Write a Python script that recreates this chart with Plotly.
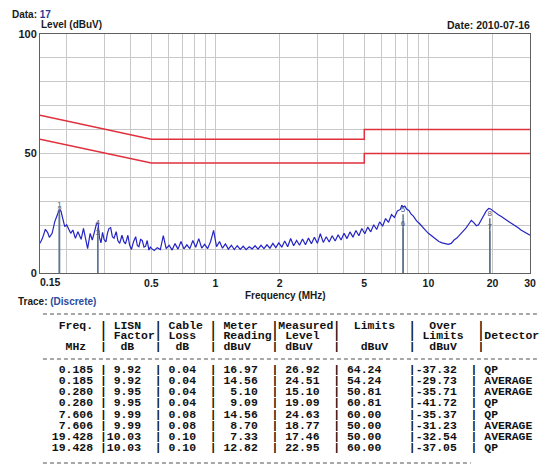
import math
import plotly.graph_objects as go

# ---------------- data ----------------
limit_freq = [0.15, 0.5, 5, 5, 30]
qp_limit = [66, 56, 56, 60, 60]
avg_limit = [56, 46, 46, 50, 50]

trace_freq = [
    0.150, 0.154, 0.159, 0.163, 0.166, 0.171, 0.176, 0.181, 0.185, 0.188,
    0.191, 0.196, 0.200, 0.203, 0.209, 0.214, 0.220, 0.226, 0.234, 0.240,
    0.245, 0.251, 0.258, 0.264, 0.270, 0.276, 0.281, 0.285, 0.290, 0.295,
    0.300, 0.306, 0.311, 0.316, 0.322, 0.328, 0.334, 0.342, 0.348, 0.355,
    0.364, 0.371, 0.378, 0.388, 0.395, 0.403, 0.412, 0.422, 0.430, 0.437,
    0.445, 0.453, 0.462, 0.470, 0.478, 0.487, 0.495,
    0.500, 0.516, 0.533, 0.551, 0.569, 0.587, 0.606, 0.626, 0.646, 0.667,
    0.689, 0.711, 0.734, 0.758, 0.783, 0.808, 0.835, 0.862, 0.890, 0.919,
    0.949, 0.980, 1.012, 1.045, 1.079, 1.114, 1.150, 1.188, 1.226, 1.266,
    1.308, 1.350, 1.394, 1.440, 1.487, 1.535, 1.585, 1.637, 1.690, 1.745,
    1.802, 1.861, 1.921, 1.984, 2.049, 2.115, 2.184, 2.255, 2.329, 2.405,
    2.483, 2.564, 2.648, 2.734, 2.823, 2.915, 3.010, 3.108, 3.209, 3.314,
    3.422, 3.534, 3.649, 3.768, 3.890, 4.017, 4.148, 4.283, 4.423, 4.567,
    4.716, 4.869, 5.028, 5.192, 5.361, 5.536, 5.716, 5.902, 6.095, 6.293,
    6.498, 6.710, 6.929, 7.154, 7.388,
    7.50, 7.606, 7.75, 7.90, 8.10, 8.30, 8.50, 8.80, 9.10, 9.40,
    9.70, 10.0, 10.4, 10.8, 11.2, 11.6, 12.0, 12.4, 12.8, 13.2,
    13.6, 14.0, 14.5, 15.0, 15.5, 15.9, 16.3, 16.8, 17.2, 17.7,
    18.2, 18.7, 19.2, 19.6, 20.0, 20.6, 21.3, 22.0, 22.8, 23.6,
    24.5, 25.4, 26.3, 27.2, 28.1, 29.0, 30.0,
]
trace_level = [
    12.4, 14.5, 18.3, 16.9, 14.9, 16.6, 21.5, 24.8, 26.6, 26.0,
    22.9, 19.4, 20.2, 18.7, 16.6, 18.0, 14.5, 17.3, 14.1, 18.7,
    15.2, 10.2, 16.6, 13.8, 17.0, 20.5, 21.0, 15.0, 12.6, 17.0,
    14.0, 13.0, 16.6, 18.6, 19.0, 15.2, 14.6, 17.3, 13.6, 12.4,
    15.8, 13.2, 12.2, 15.8, 11.8, 9.8, 13.0, 15.2, 11.4, 11.0,
    14.0, 13.6, 10.8, 11.2, 13.6, 9.6, 11.0,
    10.3, 9.4, 10.6, 9.8, 15.6, 10.2, 11.6, 9.6, 12.3, 10.0,
    13.2, 10.1, 11.8, 10.2, 13.6, 10.8, 14.4, 10.4, 12.0, 10.2,
    13.2, 17.8, 11.0, 13.2, 10.4, 12.2, 10.0, 11.6, 9.8, 11.4,
    9.9, 11.2, 9.8, 11.0, 10.1, 11.4, 10.0, 11.6, 10.2, 11.8,
    10.4, 12.4, 10.6, 12.6, 10.8, 13.4, 11.0, 14.4, 11.4, 13.6,
    11.6, 14.2, 11.8, 14.6, 12.2, 15.0, 12.4, 16.4, 12.8, 15.2,
    13.0, 15.6, 13.4, 16.0, 13.8, 16.6, 14.4, 17.2, 15.0, 17.8,
    15.6, 18.6, 16.4, 19.2, 17.2, 20.2, 18.2, 21.4, 19.6, 22.8,
    21.2, 24.4, 23.2, 26.0, 26.6,
    28.4, 27.6, 28.0, 26.8, 26.2, 24.6, 23.8, 21.8, 20.6, 19.0,
    17.8, 16.6, 15.4, 14.2, 13.2, 12.6, 12.2, 12.0, 12.4, 13.8,
    14.6, 15.8, 17.2, 18.8, 20.6, 22.0, 21.2, 19.8, 20.2, 22.4,
    24.4, 26.0, 27.0, 26.8, 26.2, 25.2, 24.4, 23.6, 22.8, 21.8,
    20.8, 20.0, 19.0, 18.0, 17.2, 16.6, 15.8,
]

freq_mhz = [0.185, 0.185, 0.280, 0.280, 7.606, 7.606, 19.428, 19.428]
lisn_factor = [9.92, 9.92, 9.95, 9.95, 9.99, 9.99, 10.03, 10.03]
cable_loss = [0.04, 0.04, 0.04, 0.04, 0.08, 0.08, 0.10, 0.10]
meter_reading = [16.97, 14.56, 5.10, 9.09, 14.56, 8.70, 7.33, 12.82]
measured_level = [26.92, 24.51, 15.10, 19.09, 24.63, 18.77, 17.46, 22.95]
limits = [64.24, 54.24, 50.81, 60.81, 60.00, 50.00, 50.00, 60.00]
over_limits = [-37.32, -29.73, -35.71, -41.72, -35.37, -31.23, -32.54, -37.05]
detector = ["QP", "AVERAGE", "AVERAGE", "QP", "QP", "AVERAGE", "AVERAGE", "QP"]

x_tick_vals = [0.5, 1, 2, 5, 10, 20, 30]
x_minor_vals = [0.2, 0.3, 0.4, 0.6, 0.7, 0.8, 0.9, 3, 4, 6, 7, 8, 9]
y_tick_vals = [0, 50, 100]
y_minor_vals = [10, 20, 30, 40, 60, 70, 80, 90]

# ---------------- layout constants ----------------
W, H = 546, 470
L, R, T, B = 40, 10, 34, 197
PW, PH = W - L - R, H - T - B


def px(x):
    return (x - L) / PW


def py(y):
    return (H - B - y) / PH


fig = go.Figure()

fig.add_trace(go.Scatter(x=limit_freq, y=qp_limit, mode="lines",
                         line=dict(color="#e0303c", width=1.5), hoverinfo="skip"))
fig.add_trace(go.Scatter(x=limit_freq, y=avg_limit, mode="lines",
                         line=dict(color="#e0303c", width=1.5), hoverinfo="skip"))
fig.add_trace(go.Scatter(x=trace_freq, y=trace_level, mode="lines",
                         line=dict(color="#2424c4", width=1.2), hoverinfo="skip"))

mx, my = [], []
for f, m in zip(freq_mhz, measured_level):
    mx += [f, f, None]
    my += [0, m, None]
fig.add_trace(go.Scatter(x=mx, y=my, mode="lines",
                         line=dict(color="#5f7590", width=1.5), hoverinfo="skip"))
fig.add_trace(go.Scatter(x=freq_mhz, y=measured_level, mode="text",
                         text=[str(i + 1) for i in range(len(freq_mhz))],
                         textposition="top center",
                         textfont=dict(family="Liberation Sans", size=8, color="#4a5a7a")))

bold = dict(family="Liberation Sans", weight="bold", color="#1a1a1a")

fig.update_layout(
    width=W, height=H,
    margin=dict(l=L, r=R, t=T, b=B),
    paper_bgcolor="white", plot_bgcolor="white",
    showlegend=False,
    xaxis=dict(type="log", range=[math.log10(0.15), math.log10(30)],
               tickvals=x_tick_vals, ticktext=[str(v) for v in x_tick_vals],
               showgrid=True, gridcolor="#c8c8c8", gridwidth=1,
               minor=dict(tickvals=x_minor_vals, showgrid=True, gridcolor="#c8c8c8", gridwidth=1),
               showline=True, linecolor="#606060", linewidth=1, mirror=True,
               ticks="", tickfont=dict(size=10.5, **bold), zeroline=False),
    yaxis=dict(range=[0, 100], tickvals=y_tick_vals,
               showgrid=True, gridcolor="#c8c8c8", gridwidth=1,
               minor=dict(tickvals=y_minor_vals, showgrid=True, gridcolor="#c8c8c8", gridwidth=1),
               showline=True, linecolor="#606060", linewidth=1, mirror=True,
               ticks="", tickfont=dict(size=11, **bold), zeroline=False),
)

ann = []


def text(xp, yp, s, anchor="left", size=10, family="Liberation Sans", weight="bold", color="#1a1a1a"):
    ann.append(dict(xref="paper", yref="paper", x=px(xp), y=py(yp), text=s,
                    showarrow=False, xanchor=anchor, yanchor="middle", borderpad=0,
                    font=dict(family=family, size=size, weight=weight, color=color)))


text(11, 15, 'Data: <span style="color:#2a3a9a">17</span>', size=10)
text(40, 25, "Level (dBuV)", size=10)
text(537, 25, "Date: 2010-07-16", anchor="right", size=10.5)
text(39, 282, "0.15", size=10.5)
text(288, 295, "Frequency (MHz)", anchor="center", size=10)
text(17, 301, 'Trace: <span style="color:#2a4aa0">(Discrete)</span>', size=10)

# table
mono = dict(family="Liberation Mono", size=11.45, weight="bold", color="#111111")
header = [
    "  Freq. | LISN  | Cable | Meter  |Measured|  Limits  |  Over   |",
    "        | Factor| Loss  | Reading| Level  |          | Limits  |Detector",
    "   MHz  |  dB   |  dB   | dBuV   | dBuV   |   dBuV   |  dBuV   |",
]
rows = []
for i in range(len(freq_mhz)):
    rows.append(f"{freq_mhz[i]:>7.3f} |{lisn_factor[i]:>5.2f}  |{cable_loss[i]:>5.2f}  |"
                f"{meter_reading[i]:>6.2f}  |{measured_level[i]:>6.2f}  |"
                f"{limits[i]:>6.2f}    |{over_limits[i]:>6.2f}  | {detector[i]}")

x_text = 44.0
for k, s in enumerate(header):
    ann.append(dict(xref="paper", yref="paper", x=px(x_text), y=py(325 + k * 10.85),
                    text=s.replace(" ", "\u00a0"), showarrow=False, xanchor="left",
                    yanchor="middle", borderpad=0, font=mono))
for k, s in enumerate(rows):
    ann.append(dict(xref="paper", yref="paper", x=px(x_text), y=py(369.3 + k * 11.2),
                    text=s.replace(" ", "\u00a0"), showarrow=False, xanchor="left",
                    yanchor="middle", borderpad=0, font=mono))

fig.update_layout(annotations=ann)

for (x0, x1, yy) in [(43, 543, 314), (43, 543, 359), (43, 476, 463)]:
    fig.add_shape(type="line", xref="paper", yref="paper",
                  x0=px(x0), x1=px(x1), y0=py(yy), y1=py(yy),
                  line=dict(color="#505050", width=1, dash="4px,3px"))

fig.write_html("out.html")
